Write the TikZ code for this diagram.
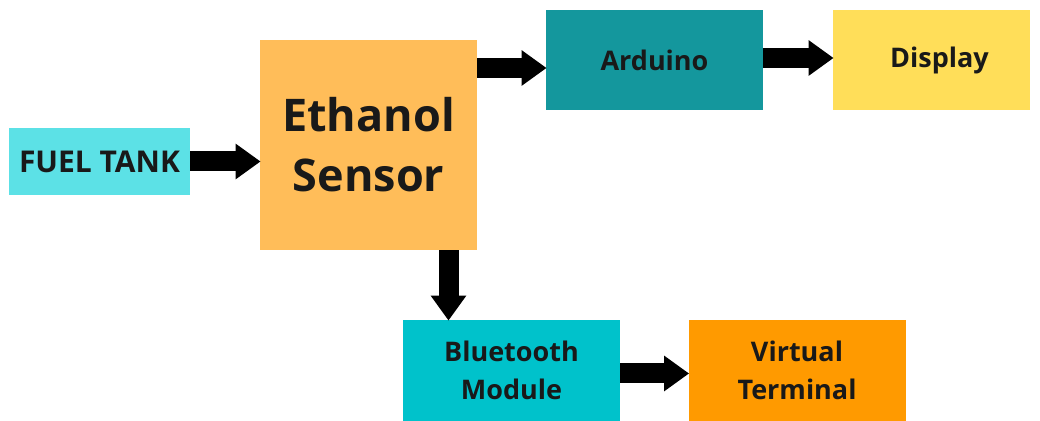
\documentclass[tikz,border=0pt]{standalone}
\usepackage{fontspec}
\setmainfont{Open Sans}
\usetikzlibrary{arrows.meta, positioning, calc}
\definecolor{tankcyan}{HTML}{5CE1E6}
\definecolor{sensororange}{HTML}{FFBD59}
\definecolor{arduteal}{HTML}{14979D}
\definecolor{dispyellow}{HTML}{FFDE59}
\definecolor{btcyan}{HTML}{00C2CB}
\definecolor{termorange}{HTML}{FF9A00}

\begin{document}
\begin{tikzpicture}[x=0.5pt,y=-0.5pt,
  block/.style={minimum width=108.5pt,minimum height=50pt,inner sep=0pt,
    font=\bfseries\fontsize{13.5}{19}\selectfont,align=center,text=black!90},
  flow/.style={line width=10pt,-{Triangle[length=12.5pt,width=17pt]},shorten >=-0.5pt}]
  \useasboundingbox[fill=white] (0,0) rectangle (1040,421);
  \node[block,fill=tankcyan,minimum width=90.5pt,minimum height=33.5pt,
    font=\bfseries\fontsize{15}{17}\selectfont](fuel) at (99.5,161.5){FUEL TANK};
  \node[block,fill=sensororange,minimum height=105pt,
    font=\bfseries\fontsize{22.5}{30}\selectfont](sensor) at (368.5,145){Ethanol\\Sensor};
  \node[block,fill=arduteal](ardu) at (654.5,60){Arduino};
  \node[block,fill=dispyellow,minimum width=98.5pt](disp) at (931.5,60){\hspace{8pt}Display};
  \node[block,fill=btcyan,minimum height=50.5pt](bt) at (511.5,370.5){Bluetooth\\Module};
  \node[block,fill=termorange,minimum height=50.5pt](term) at (797,370.5){Virtual\\Terminal};
  % arrows
  \draw[flow] (fuel.east) -- (fuel.east -| sensor.west);
  \draw[flow] ([yshift=-4pt]ardu.west -| sensor.east) -- ([yshift=-4pt]ardu.west);
  \draw[flow] ([yshift=1pt]ardu.east) -- ([yshift=1pt]disp.west);
  \draw[flow] ([xshift=40pt]sensor.south) -- ([xshift=40pt]sensor.south |- bt.north);
  \draw[flow] ([yshift=-1.5pt]bt.east) -- ([yshift=-1.5pt]term.west);
\end{tikzpicture}
\end{document}
